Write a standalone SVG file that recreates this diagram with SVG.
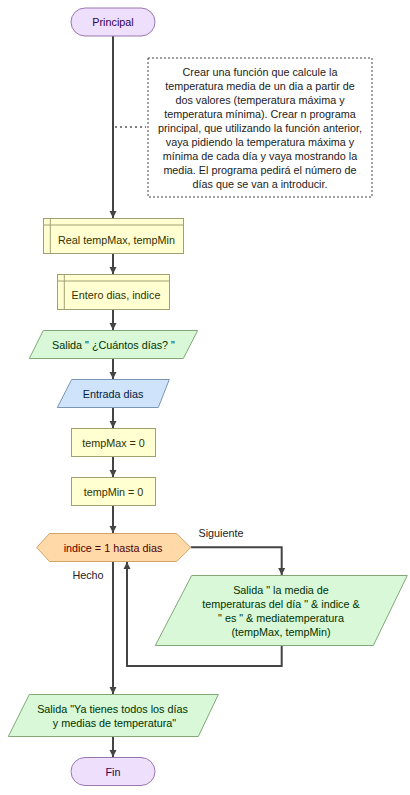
<svg xmlns="http://www.w3.org/2000/svg" width="410" height="795" viewBox="0 0 410 795">
<defs>
<marker id="arr" markerWidth="8" markerHeight="8" refX="7" refY="4" orient="auto" markerUnits="userSpaceOnUse">
<path d="M0,0.5 L7,4 L0,7.5 Z" fill="#444"/>
</marker>
<style>
text{font-family:"Liberation Sans",Arial,sans-serif;font-size:10.8px;text-anchor:middle;dominant-baseline:central}
.term{fill:#eedffc;stroke:#9a77b0;stroke-width:1}
.decl{fill:#ffffd2;stroke:#a0a070;stroke-width:1}
.io{fill:#d8f8d8;stroke:#82a878;stroke-width:1}
.in{fill:#cfe4fb;stroke:#7a95b5;stroke-width:1}
.loop{fill:#ffdaa8;stroke:#d2a46a;stroke-width:1}
.edge{fill:none;stroke:#444;stroke-width:2}
.t-term{fill:#330055}
.t-decl{fill:#333300}
.t-io{fill:#003300}
.t-in{fill:#002244}
.t-loop{fill:#550000}
.t-lbl{fill:#222}
</style>
</defs>
<g id="connectors">
<path class="edge" d="M113,36 V218" marker-end="url(#arr)"/>
<path d="M115,127 H146" fill="none" stroke="#555" stroke-width="1.5" stroke-dasharray="2,3"/>
<path class="edge" d="M113,253 V274" marker-end="url(#arr)"/>
<path class="edge" d="M113,309 V330" marker-end="url(#arr)"/>
<path class="edge" d="M113,358 V379" marker-end="url(#arr)"/>
<path class="edge" d="M113,407 V428" marker-end="url(#arr)"/>
<path class="edge" d="M113,456 V477" marker-end="url(#arr)"/>
<path class="edge" d="M113,505 V533" marker-end="url(#arr)"/>
<path class="edge" d="M190.7,547.3 H281.7 V575" marker-end="url(#arr)"/>
<path class="edge" d="M281.7,645 V666 H127 V562" marker-end="url(#arr)"/>
<path class="edge" d="M113,562 V694" marker-end="url(#arr)"/>
<path class="edge" d="M113,736 V757" marker-end="url(#arr)"/>
<text class="t-lbl" x="221" y="533">Siguiente</text>
<text class="t-lbl" x="88" y="575">Hecho</text>
</g>
<g id="principal">
<rect class="term" x="71" y="8" width="84" height="28" rx="14" ry="14"/>
<text class="t-term" x="113" y="22">Principal</text>
</g>
<g id="note">
<rect x="148" y="58" width="224" height="139" fill="#fff" stroke="#444" stroke-width="1" stroke-dasharray="2,2"/>
<text class="t-lbl" x="260" y="71.5">Crear una función que calcule la</text>
<text class="t-lbl" x="260" y="85.5">temperatura media de un dia a partir de</text>
<text class="t-lbl" x="260" y="99.5">dos valores (temperatura máxima y</text>
<text class="t-lbl" x="260" y="113.5">temperatura mínima). Crear n programa</text>
<text class="t-lbl" x="260" y="127.5">principal, que utilizando la función anterior,</text>
<text class="t-lbl" x="260" y="141.5">vaya pidiendo la temperatura máxima y</text>
<text class="t-lbl" x="260" y="155.5">mínima de cada día y vaya mostrando la</text>
<text class="t-lbl" x="260" y="169.5">media. El programa pedirá el número de</text>
<text class="t-lbl" x="260" y="183.5">días que se van a introducir.</text>
</g>
<g id="decl-real">
<rect class="decl" x="43.5" y="218.5" width="140" height="35"/>
<path d="M43.5,225 H183.5 M50.3,218.5 V253.5" stroke="#a0a070" stroke-width="1" fill="none"/>
<text class="t-decl" x="116.5" y="240">Real tempMax, tempMin</text>
</g>
<g id="decl-entero">
<rect class="decl" x="57.5" y="274.5" width="112" height="35"/>
<path d="M57.5,281 H169.5 M64.3,274.5 V309.5" stroke="#a0a070" stroke-width="1" fill="none"/>
<text class="t-decl" x="116" y="295">Entero dias, indice</text>
</g>
<g id="salida-cuantos">
<polygon class="io" points="43.3,330.5 197.7,330.5 183.3,358.5 29.3,358.5"/>
<text class="t-io" x="113.5" y="344.5">Salida " ¿Cuántos días? "</text>
</g>
<g id="entrada-dias">
<polygon class="in" points="71.7,379.5 169.3,379.5 158.3,407.5 57.3,407.5"/>
<text class="t-in" x="113" y="393.5">Entrada dias</text>
</g>
<g id="assign-max">
<rect class="decl" x="71.5" y="428.5" width="84" height="28"/>
<text class="t-decl" x="113.5" y="442.5">tempMax = 0</text>
</g>
<g id="assign-min">
<rect class="decl" x="71.5" y="477.5" width="84" height="28"/>
<text class="t-decl" x="113.5" y="491.5">tempMin = 0</text>
</g>
<g id="loop">
<polygon class="loop" points="36.7,547.5 49.5,533.5 176.7,533.5 190.7,547.5 176.7,561.5 49.5,561.5"/>
<text class="t-loop" x="113" y="547.5">indice = 1 hasta dias</text>
</g>
<g id="salida-media">
<polygon class="io" points="191.7,575.5 407.3,575.5 373.3,645.5 155.3,645.5"/>
<text class="t-io" x="281" y="589.5">Salida " la media de</text>
<text class="t-io" x="281" y="603.5">temperaturas del día " &amp; indice &amp;</text>
<text class="t-io" x="281" y="617.5">" es " &amp; mediatemperatura</text>
<text class="t-io" x="281" y="631.5">(tempMax, tempMin)</text>
</g>
<g id="salida-final">
<polygon class="io" points="29.3,694.5 218.3,694.5 198.3,736.5 8.3,736.5"/>
<text class="t-io" x="112.5" y="708.5">Salida "Ya tienes todos los días</text>
<text class="t-io" x="114.5" y="722.5">y medias de temperatura"</text>
</g>
<g id="fin">
<rect class="term" x="71" y="757.5" width="84" height="28" rx="14" ry="14"/>
<text class="t-term" x="113" y="771.5">Fin</text>
</g>
</svg>
